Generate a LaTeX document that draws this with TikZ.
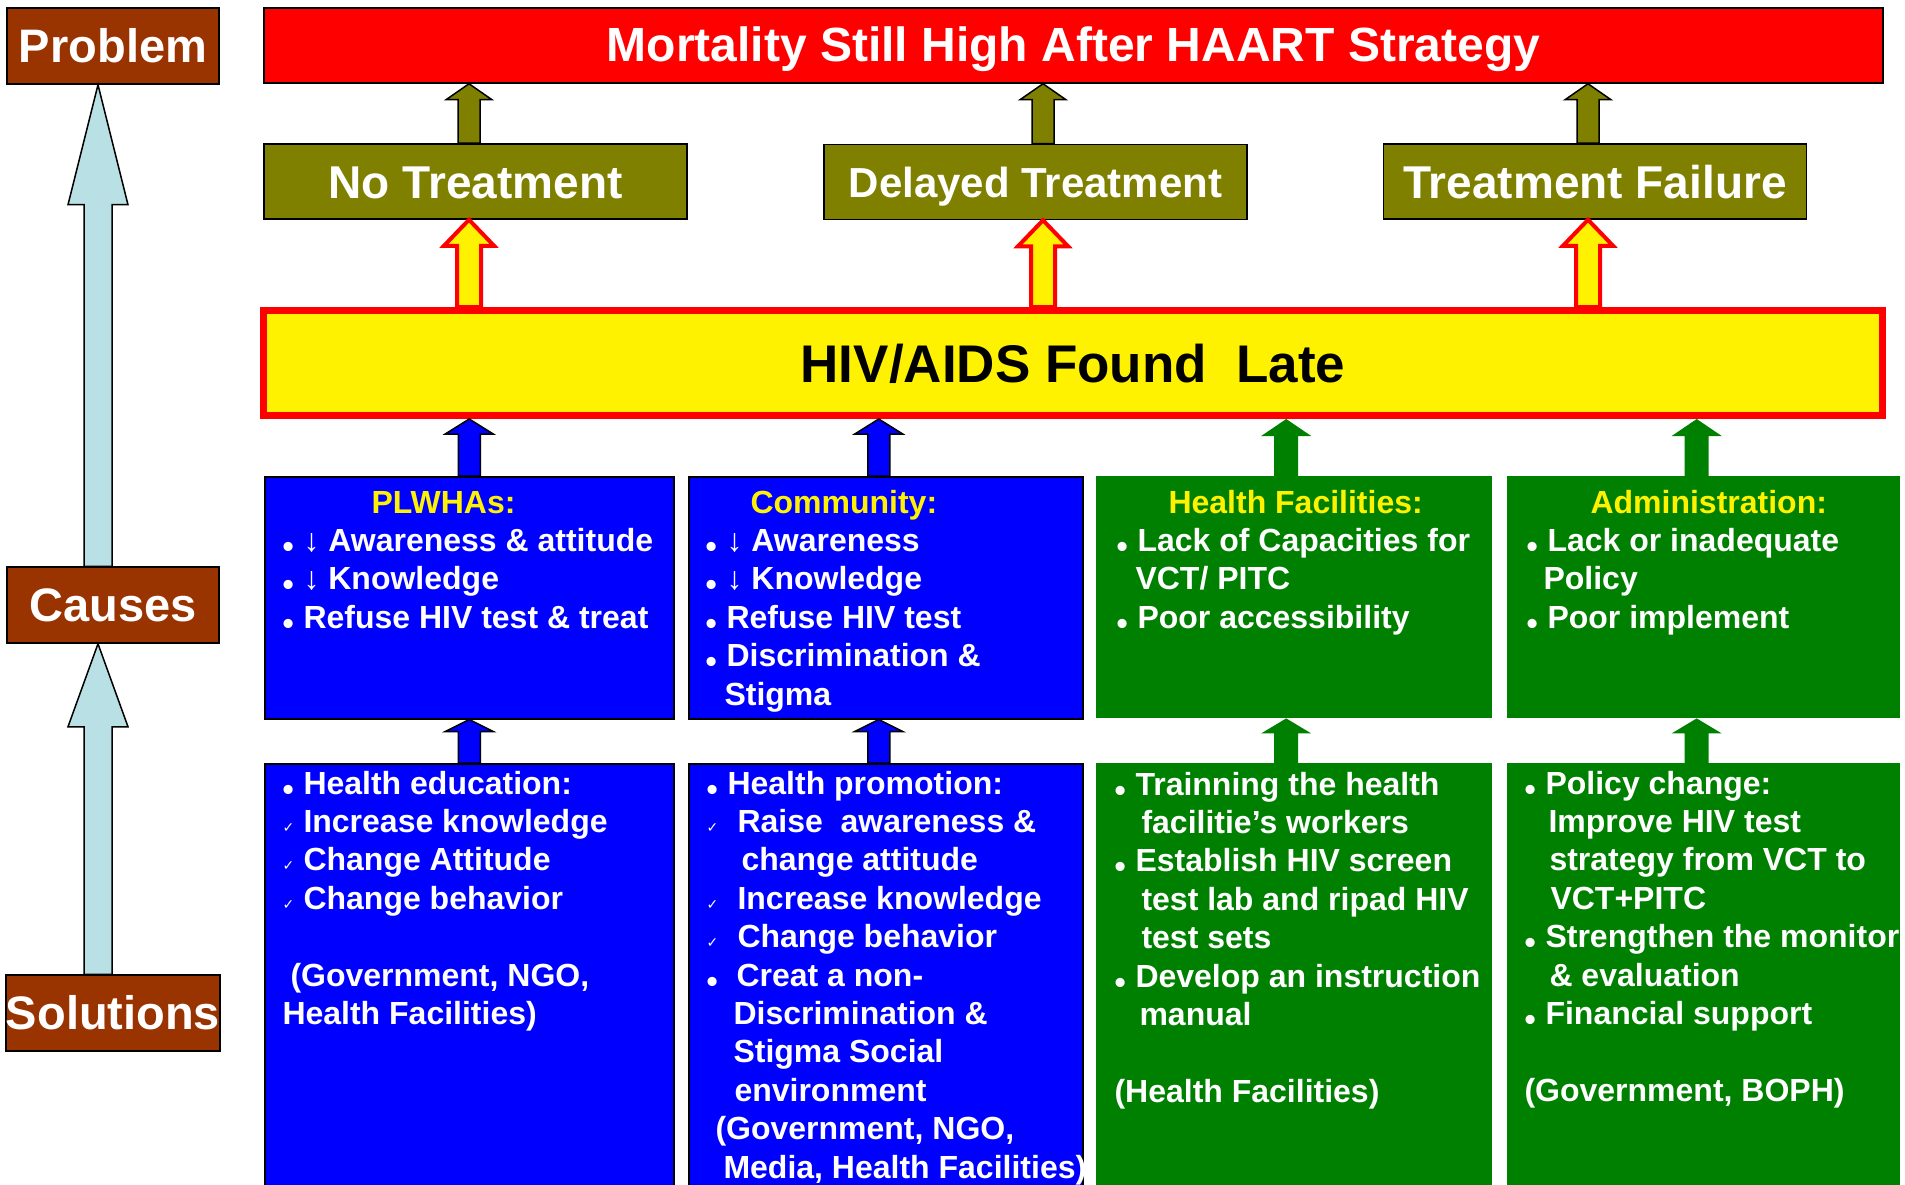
\documentclass[tikz,border=0pt]{standalone}
\usepackage{fontspec}
\setmainfont{Liberation Sans}
\newfontfamily\symfont{DejaVu Sans}
\usetikzlibrary{calc}

\definecolor{rootbrown}{RGB}{153,51,0}
\definecolor{effolive}{RGB}{128,128,0}
\definecolor{cblue}{RGB}{0,0,255}
\definecolor{cgreen}{RGB}{0,128,0}
\definecolor{skyarrow}{RGB}{185,224,228}

\newcommand{\bu}{\makebox[21pt][l]{\raisebox{-6pt}{\textbullet}}}
\newcommand{\ck}{\makebox[21pt][l]{\fontsize{14}{14}\symfont ✓}}
\newcommand{\dn}{{\mdseries ↓}}
\newcommand{\fs}{\rule{0pt}{26pt}}
\newcommand{\hd}[1]{{\color{yellow}#1}}

\newcommand{\blockup}[6]{%
  \draw[#1] let \p1=(#2), \p2=(#3) in
    (\x1-#4,\y1) -- (\x1-#4,\y2-#6) -- (\x1-#5,\y2-#6) -- (\x1,\y2)
    -- (\x1+#5,\y2-#6) -- (\x1+#4,\y2-#6) -- (\x1+#4,\y1) -- cycle;}

\begin{document}
\begin{tikzpicture}[x=1pt, y=-1pt,
    side/.style={draw=black, line width=1.5pt, fill=rootbrown, text=white,
        font=\fontsize{47}{50}\selectfont\bfseries, minimum width=212pt,
        minimum height=76pt, inner sep=0pt, text height=33pt, text depth=0pt},
    goal/.style={draw=black, line width=1.5pt, fill=red, text=white,
        font=\fontsize{48}{50}\selectfont\bfseries, minimum width=1619pt,
        minimum height=75pt, inner sep=0pt, text height=33pt, text depth=0pt},
    effect/.style={draw=black, line width=1.5pt, fill=effolive, text=white,
        font=\fontsize{46}{50}\selectfont\bfseries, minimum width=423pt,
        minimum height=75pt, inner sep=0pt, text height=33pt, text depth=0pt},
    late/.style={draw=red, line width=7pt, fill=yellow, text=black,
        font=\fontsize{53}{56}\selectfont\bfseries, minimum width=1619pt,
        minimum height=105pt, inner sep=0pt, text height=38pt, text depth=0pt},
    bluebox/.style={draw=black, line width=1.5pt, fill=cblue, anchor=north west, inner sep=0pt},
    greenbox/.style={draw=none, fill=cgreen, anchor=north west, inner sep=0pt},
    txt/.style={anchor=north west, inner sep=0pt, outer sep=0pt, align=left, text=white,
        font=\fontsize{32}{38.4}\selectfont\bfseries},
    skyarr/.style={draw=black, line width=1.5pt, fill=skyarrow},
    olivearr/.style={draw=black, line width=1.5pt, fill=effolive},
    hotarr/.style={draw=red, line width=4pt, fill=yellow},
    bluearr/.style={draw=black, line width=1.5pt, fill=cblue},
    greenarr/.style={draw=none, fill=cgreen}]

    \useasboundingbox (0,0) rectangle (1905,1185);
    \clip (0,0) rectangle (1905,1185);

    \node[side] (prob) at (113,46) {Problem};
    \node[side] (caus) at (113,605) {Causes};
    \node[side] (solu) at (113,1013) {Solutions};

    \node[goal] (title) at (1073.5,45.5) {Mortality Still High After HAART Strategy};
    \node[effect] (nt) at (475.5,181.5) {No Treatment};
    \node[effect, font=\fontsize{42}{46}\selectfont\bfseries, text height=30pt] (dt) at (1035.5,182) {Delayed Treatment};
    \node[effect] (tf) at (1595,181.5) {Treatment Failure};
    \node[late] (hiv) at (1073,363) {HIV/AIDS Found~~Late};

    \node[bluebox, minimum width=409pt, minimum height=242pt] (plw) at (264,476) {};
    \node[bluebox, minimum width=394pt, minimum height=242pt] (cmty) at (688,476) {};
    \node[greenbox, minimum width=396pt, minimum height=242pt] (hfac) at (1096,476) {};
    \node[greenbox, minimum width=393pt, minimum height=242pt] (admn) at (1507,476) {};

    \node[bluebox, minimum width=409pt, minimum height=440pt] (plws) at (264,763) {};
    \node[bluebox, minimum width=394pt, minimum height=440pt] (cmtys) at (688,763) {};

    \node[txt] (plwt) at ($(plw.north west)+(18.5,11)$) {\fs\hspace*{89pt}\hd{PLWHAs:}\\
        \bu\dn{} Awareness \& attitude\\
        \bu\dn{} Knowledge\\
        \bu Refuse HIV test \& treat};
    \node[txt] (cmtyt) at ($(cmty.north west)+(17.5,11)$) {\fs\hspace*{45pt}\hd{Community:}\\
        \bu\dn{} Awareness\\
        \bu\dn{} Knowledge\\
        \bu Refuse HIV test\\
        \bu Discrimination \&\\
        \hspace*{19pt}Stigma};
    \node[txt] (hfact) at ($(hfac.north west)+(20.5,11)$) {\fs\hspace*{52pt}\hd{Health Facilities:}\\
        \bu Lack of Capacities for\\
        \hspace*{19pt}VCT/ PITC\\
        \bu Poor accessibility};
    \node[txt] (admnt) at ($(admn.north west)+(19.5,11)$) {\fs\hspace*{64pt}\hd{Administration:}\\
        \bu Lack or inadequate\\
        \hspace*{17pt}Policy\\
        \bu Poor implement};

    \node[txt] (plwst) at ($(plws.north west)+(18.5,5)$) {\fs\bu Health education:\\
        \ck Increase knowledge\\
        \ck Change Attitude\\
        \ck Change behavior\\[38.4pt]
        \hspace*{8pt}(Government, NGO,\\
        Health Facilities)};
    \node[txt] (cmtyst) at ($(cmtys.north west)+(18.5,5)$) {\fs\bu Health promotion:\\
        \ck\hspace*{10pt}Raise~~awareness \&\\
        \hspace*{35pt}change attitude\\
        \ck\hspace*{10pt}Increase knowledge\\
        \ck\hspace*{10pt}Change behavior\\
        \bu\hspace*{9pt}Creat a non-\\
        \hspace*{27pt}Discrimination \&\\
        \hspace*{27pt}Stigma Social\\
        \hspace*{28pt}environment\\
        \hspace*{9pt}(Government, NGO,\\
        \hspace*{17pt}Media, Health Facilities)};

    \node[greenbox, minimum width=396pt, minimum height=440pt] (hfacs) at (1096,763) {};
    \node[greenbox, minimum width=393pt, minimum height=440pt] (admns) at (1507,763) {};

    \node[txt] (hfacst) at ($(hfacs.north west)+(18.5,6)$) {\fs\bu Trainning the health\\
        \hspace*{27pt}facilitie’s workers\\
        \bu Establish HIV screen\\
        \hspace*{27pt}test lab and ripad HIV\\
        \hspace*{27pt}test sets\\
        \bu Develop an instruction\\
        \hspace*{25pt}manual\\[38.4pt]
        (Health Facilities)};
    \node[txt] (admnst) at ($(admns.north west)+(17.5,5)$) {\fs\bu Policy change:\\
        \hspace*{24pt}Improve HIV test\\
        \hspace*{25pt}strategy from VCT to\\
        \hspace*{26pt}VCT+PITC\\
        \bu Strengthen the monitor\\
        \hspace*{25pt}\& evaluation\\
        \bu Financial support\\[38.4pt]
        (Government, BOPH)};

    \coordinate (nta) at ($(nt.south)+(-6.5,0)$);
    \coordinate (dta) at ($(dt.south)+(7.5,0)$);
    \coordinate (tfa) at ($(tf.south)+(-7,0)$);

    \blockup{skyarr}{$(caus.north)+(-15,0)$}{prob.south}{14}{30}{120}
    \blockup{skyarr}{$(solu.north)+(-15,0)$}{caus.south}{14}{30}{83}

    \blockup{olivearr}{nta |- nt.north}{title.south}{11}{23}{16}
    \blockup{olivearr}{dta |- dt.north}{title.south}{11}{23}{16}
    \blockup{olivearr}{tfa |- tf.north}{title.south}{11}{23}{16}

    \blockup{hotarr}{nta |- hiv.north}{nt.south}{12}{25}{26}
    \blockup{hotarr}{dta |- hiv.north}{dt.south}{12}{25}{26}
    \blockup{hotarr}{tfa |- hiv.north}{tf.south}{12}{25}{26}

    \blockup{bluearr}{plw.north}{hiv.south}{11}{24}{15}
    \blockup{bluearr}{$(cmty.north)+(-7,0)$}{hiv.south}{11}{24}{15}
    \blockup{greenarr}{$(hfac.north)+(-8,0)$}{hiv.south}{12}{25}{17}
    \blockup{greenarr}{$(admn.north)+(-7,0)$}{hiv.south}{12}{25}{17}

    \blockup{bluearr}{plws.north}{plw.south}{11}{24}{12}
    \blockup{bluearr}{$(cmtys.north)+(-7,0)$}{cmty.south}{11}{24}{12}
    \blockup{greenarr}{$(hfacs.north)+(-8,0)$}{hfac.south}{12}{25}{15}
    \blockup{greenarr}{$(admns.north)+(-7,0)$}{admn.south}{12}{25}{15}
\end{tikzpicture}
\end{document}
